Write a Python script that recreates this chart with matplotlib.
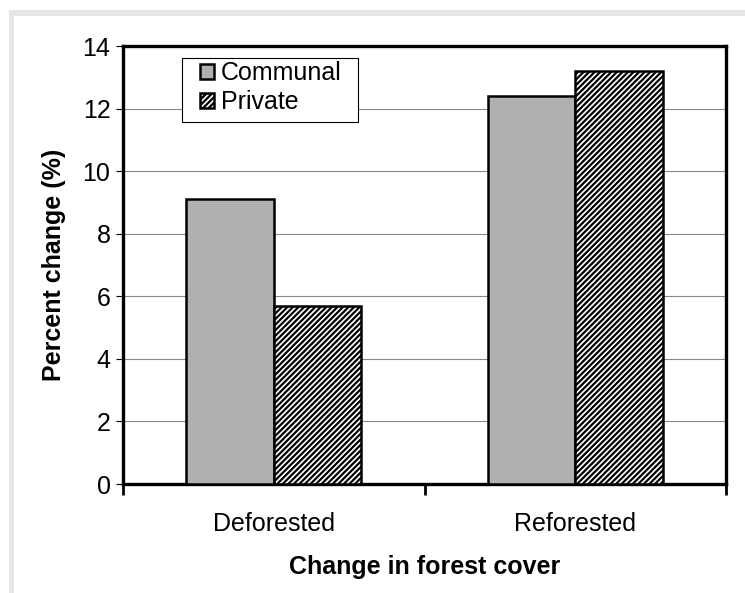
import numpy as np
import matplotlib
matplotlib.use('Agg')
import matplotlib.pyplot as plt
from matplotlib.patches import Rectangle

plt.rcParams['font.family'] = ['Liberation Sans', 'DejaVu Sans']
plt.rcParams['hatch.linewidth'] = 1.6

# data
categories = ['Deforested', 'Reforested']
communal = [9.1, 12.4]
private = [5.7, 13.2]

fig = plt.figure(figsize=(7.45, 5.93), dpi=100)
W, H = 745, 593
fs = 18

# light gray frame around the picture
fig.patches.append(Rectangle((9 / W, 0), 5 / W, 1 - 10 / H, transform=fig.transFigure,
                             facecolor='#e6e6e6', edgecolor='none'))
fig.patches.append(Rectangle((9 / W, 1 - 16 / H), 1, 6 / H, transform=fig.transFigure,
                             facecolor='#e6e6e6', edgecolor='none'))

ax = fig.add_axes([123 / W, 1 - 484 / H, (726 - 123) / W, (484 - 46) / H])

x = np.arange(len(categories))
w = 0.29
ax.bar(x - w / 2, communal, w, color='#b0b0b0', edgecolor='black', linewidth=1.8,
       label='Communal', zorder=3)
ax.bar(x + w / 2, private, w, color='white', edgecolor='black', linewidth=1.8,
       hatch='//////', label='Private', zorder=3)

ax.set_xlim(-0.5, 1.5)
ax.set_ylim(0, 14)
ax.set_yticks(range(0, 15, 2))
ax.yaxis.grid(True, color='#8a8a8a', linewidth=0.8, zorder=0)
ax.set_axisbelow(True)

ax.set_xticks([-0.5, 0.5, 1.5])
ax.set_xticklabels([])
ax.set_xticks(x, minor=True)
ax.set_xticklabels(categories, minor=True)
ax.tick_params(axis='x', which='major', length=8, width=2, direction='out')
ax.tick_params(axis='x', which='minor', length=0, pad=20, labelsize=fs)
ax.tick_params(axis='y', length=5, width=0.8, direction='out', labelsize=fs, pad=4)

for s in ax.spines.values():
    s.set_linewidth(2.4)

ax.set_ylabel('Percent change (%)', fontsize=fs, fontweight='bold', labelpad=12)
ax.set_xlabel('Change in forest cover', fontsize=fs, fontweight='bold', labelpad=14)

# legend box drawn separately to get the wide padding of the original
aw, ah = 726 - 123, 484 - 46
ax.add_patch(Rectangle(((182 - 123) / aw, (484 - 122) / ah), (358 - 182) / aw, 64 / ah,
                       transform=ax.transAxes, facecolor='white', edgecolor='black',
                       linewidth=0.8, zorder=5))
leg = ax.legend(loc='upper left', bbox_to_anchor=((200 - 123) / aw, (484 - 61) / ah),
                fontsize=fs, frameon=False,
                handlelength=0.55, handleheight=0.55, handletextpad=0.3,
                borderpad=0, labelspacing=0.2, borderaxespad=0)
leg.set_zorder(6)

fig.savefig('out.png', dpi=100)
